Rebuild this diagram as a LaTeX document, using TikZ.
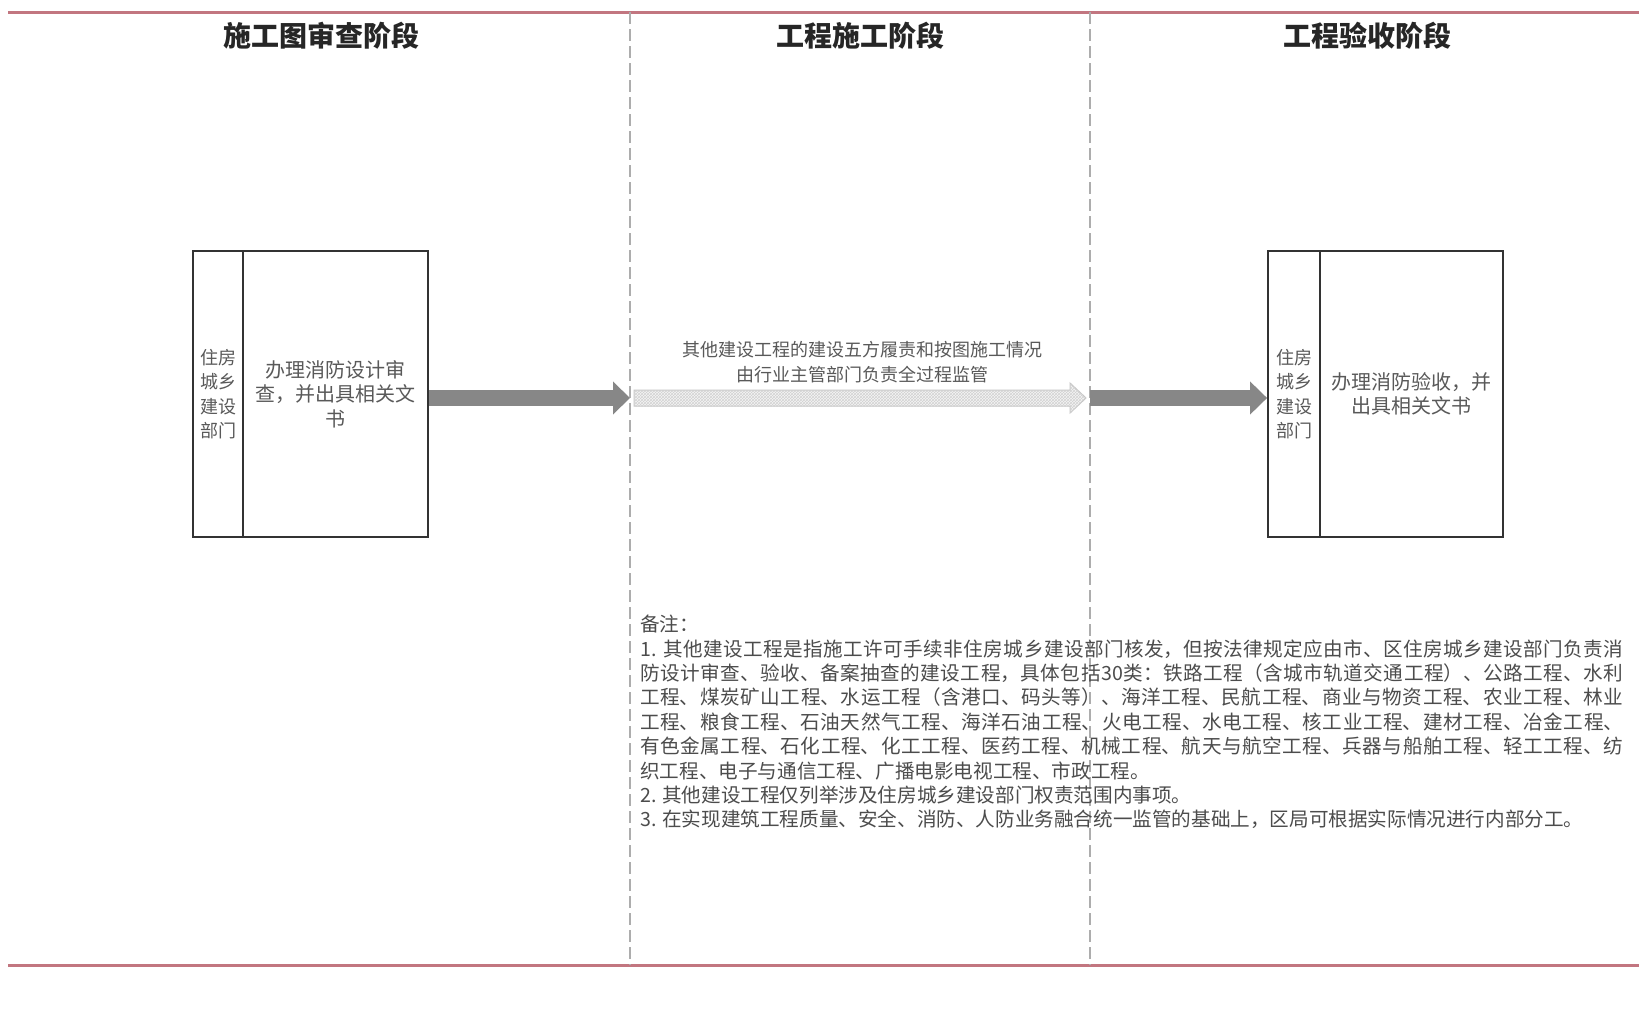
\documentclass[tikz,border=0pt]{standalone}
\usepackage{fontspec}
\setmainfont{Noto Sans CJK SC}
\usetikzlibrary{arrows.meta,patterns,calc}
\XeTeXlinebreaklocale "zh"
\XeTeXlinebreakskip=0pt plus 2pt minus 0.3pt
\definecolor{redline}{RGB}{194,118,128}
\definecolor{arrowgray}{RGB}{135,135,135}
\begin{document}
\begin{tikzpicture}[x=1pt,y=-1pt,
  stagehead/.style={font=\fontsize{28}{30}\selectfont\bfseries, text=black!85, inner sep=0pt},
  deptcell/.style={draw=black!80, line width=1.8pt, minimum width=50pt, minimum height=286pt, inner sep=0pt, align=center, font=\fontsize{18}{24.4}\selectfont, text=black!65},
  taskcell/.style={draw=black!80, line width=1.8pt, minimum height=286pt, inner sep=0pt, align=center, font=\fontsize{20}{24.4}\selectfont, text=black!65},
  bigarrow/.style={draw=arrowgray, line width=16pt, -{Triangle[length=17pt,width=32pt]}},
  lane/.style={draw=black!32, line width=1.2pt, dash pattern=on 12pt off 5pt},
  border/.style={draw=redline, line width=3pt}
]
\useasboundingbox (0,0) rectangle (1639,1018);
\fill[white] (0,0) rectangle (1639,1018);
% borders
\coordinate (tl) at (8,12);
\coordinate (tr) at (1639,12);
\coordinate (bl) at (8,965);
\coordinate (br) at (1639,965);
\draw[border] (tl) -- (tr);
\draw[border] (bl) -- (br);
% lanes
\coordinate (l1t) at (630,12);
\coordinate (l1b) at (630,965);
\coordinate (l2t) at (1090,12);
\coordinate (l2b) at (1090,965);
\draw[lane] (l1t) -- (l1b);
\draw[lane] (l2t) -- (l2b);
% headers
\node[stagehead] (h1) at (321,36) {施工图审查阶段};
\node[stagehead] (h2) at (860,36) {工程施工阶段};
\node[stagehead] (h3) at (1367,36) {工程验收阶段};
% left box
\node[deptcell] (ld) at (218,394) {住房\\城乡\\建设\\部门};
\node[taskcell, minimum width=185pt] (lt) at (335.5,394) {办理消防设计审\\查，并出具相关文\\书};
% right box
\node[deptcell, minimum width=52pt] (rd) at (1294,394) {住房\\城乡\\建设\\部门};
\node[taskcell, minimum width=183pt] (rt) at (1411.5,394) {办理消防验收，并\\出具相关文书};
% arrows
\coordinate (a1e) at (630,398);
\draw[bigarrow] (lt.east |- a1e) -- (a1e);
\coordinate (a2s) at (1090,398);
\draw[bigarrow] (a2s) -- (rd.west |- a2s);
% middle hatched arrow
\coordinate (ms) at (634,398);
\coordinate (me) at (1086,398);
\path[fill=gray!8, draw=gray!45, line width=1pt, postaction={pattern=crosshatch, pattern color=gray!35}]
  ($(ms)+(0,-8)$) -- ($(me)+(-16,-8)$) -- ($(me)+(-16,-15)$) -- (me) -- ($(me)+(-16,15)$) -- ($(me)+(-16,8)$) -- ($(ms)+(0,8)$) -- cycle;
\node[font=\fontsize{18}{25}\selectfont, text=black!65, align=center] (mt) at (862,362) {其他建设工程的建设五方履责和按图施工情况\\由行业主管部门负责全过程监管};
% notes
\node[anchor=north west, inner sep=0pt, text width=983pt, align=justify, font=\fontsize{19.6}{24.4}\selectfont, text=black!70] (notes) at (640,615) {备注：\\%
1. 其他建设工程是指施工许可手续非住房城乡建设部门核发，但按法律规定应由市、区住房城乡建设部门负责消\linebreak
防设计审查、验收、备案抽查的建设工程，具体包括30类：铁路工程（含城市轨道交通工程）、公路工程、水利\linebreak
工程、煤炭矿山工程、水运工程（含港口、码头等）、海洋工程、民航工程、商业与物资工程、农业工程、林业\linebreak
工程、粮食工程、石油天然气工程、海洋石油工程、火电工程、水电工程、核工业工程、建材工程、冶金工程、\linebreak
有色金属工程、石化工程、化工工程、医药工程、机械工程、航天与航空工程、兵器与船舶工程、轻工工程、纺\linebreak
织工程、电子与通信工程、广播电影电视工程、市政工程。\\%
2. 其他建设工程仅列举涉及住房城乡建设部门权责范围内事项。\\%
3. 在实现建筑工程质量、安全、消防、人防业务融合统一监管的基础上，区局可根据实际情况进行内部分工。};
\end{tikzpicture}
\end{document}
